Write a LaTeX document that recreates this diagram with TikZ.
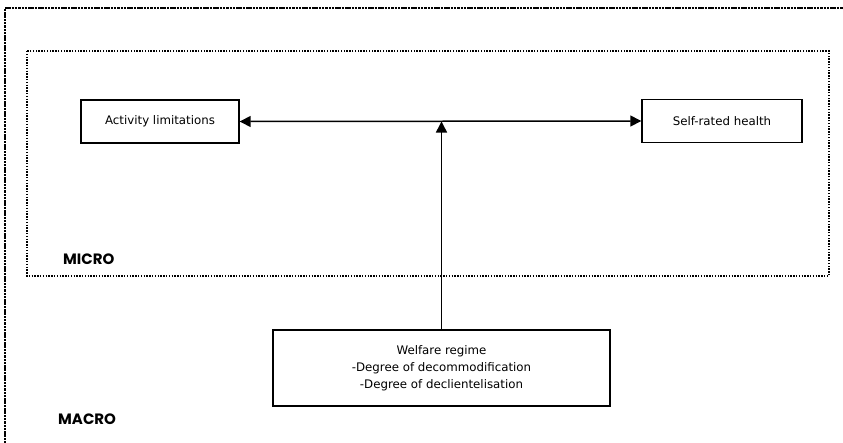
\documentclass[tikz,border=0pt]{standalone}
\usepackage{fontspec}
\setmainfont{DejaVu Sans}
\newfontfamily\levelfont{Poppins}
\usetikzlibrary{arrows.meta}
\tikzset{
  box/.style={draw, line width=1.4pt, minimum height=43pt, align=center, font=\fontsize{11.8}{17}\selectfont, inner sep=0pt},
  tip/.tip={Triangle[length=11pt,width=11pt]},
  conn/.style={line width=1.5pt, -tip},
  level/.style={font=\levelfont\bfseries\fontsize{15}{16}\selectfont, anchor=base west, inner sep=0pt},
}
\begin{document}
\begin{tikzpicture}[x=1pt,y=-1pt]
  \clip (0,0) rectangle (843,442);
  % outer macro frame, running past the page edges
  \draw[line width=1.3pt, dash pattern=on 2.5pt off 0.8pt] (5,460) -- (5,8) -- (860,8);
  % micro frame
  \draw[line width=1.2pt, dash pattern=on 1.4pt off 1.4pt] (27,51) rectangle (829,276);
  \node[level] (micro) at (63,264) {MICRO};
  \node[level] (macro) at (58,424) {MACRO};

  \node[box, minimum width=158pt] (act) at (160,121.5) {Activity limitations};
  \node[box, minimum width=160pt] (srh) at (722,121) {Self-rated health};
  \node[box, minimum width=337pt, minimum height=76pt] (wel) at (441.5,368) {Welfare regime\\-Degree of decommodification\\-Degree of declientelisation};

  \draw[conn, tip-tip] (act.east) -- (srh.west);
  \draw[conn] (wel.north) -- (wel.north |- act.east);
\end{tikzpicture}
\end{document}
